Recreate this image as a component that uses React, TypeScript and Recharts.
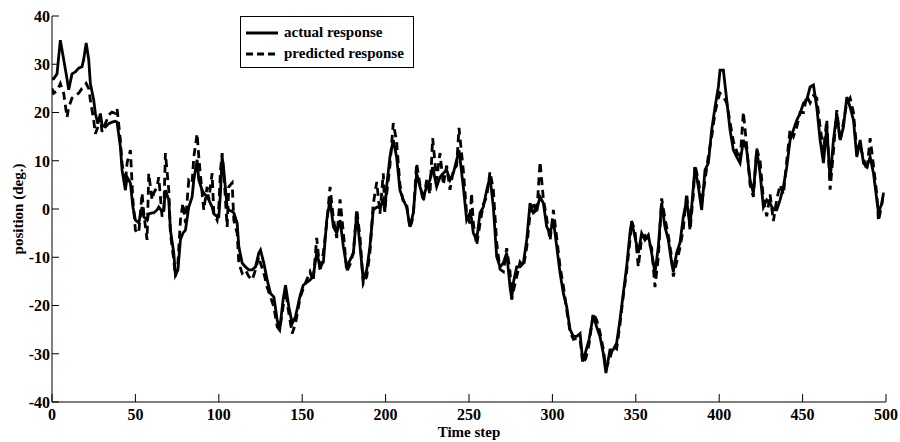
import React from 'react';
import { LineChart, Line, XAxis, YAxis, Legend } from 'recharts';

const FONT = '"Liberation Serif", "Times New Roman", Times, serif';

const timeSteps = [
  0, 1, 3, 5, 7, 9, 10, 12, 14, 16,
  18, 19, 20.5, 22, 23, 25, 26, 27.5, 29, 30,
  32, 34, 36, 38, 39, 41, 42, 44, 45, 47,
  48.5, 50, 52, 54, 55, 57, 58, 60, 61, 63,
  64, 66, 67, 68, 70, 71, 73, 74, 75.5, 77,
  78.5, 80, 82, 84, 85, 87, 88, 90, 91, 93,
  94, 96, 97, 99, 100, 101, 102, 103, 105, 106,
  108, 109, 111, 112, 114, 116, 118, 120, 122, 124,
  125, 127, 129, 131, 133, 135, 136.5, 138.5, 140, 142,
  144, 146, 148.7, 150.6, 154.7, 156.6, 158.7, 160.7, 162.7, 164.7,
  166.7, 168.7, 170.7, 172.7, 174.7, 176.7, 178.7, 180.7, 182.7, 184.7,
  186.6, 188.7, 190.6, 192.6, 194.7, 196.6, 198.6, 199.5, 200.6, 202.6,
  204.6, 206.6, 208.6, 210.6, 212.6, 214.6, 216.6, 218.6, 220.6, 222.6,
  224.6, 226.6, 228.2, 230.6, 232.6, 234.6, 236.6, 238.6, 240.6, 242.6,
  244, 246.6, 248.6, 250.6, 251.5, 252.6, 254.6, 256.6, 258.6, 260.6,
  262.6, 264.6, 266.6, 268.6, 270.6, 272.6, 274.6, 275.6, 276.6, 278.6,
  280.6, 282.6, 284.6, 286.6, 288.6, 290.6, 292.6, 294.6, 296.6, 298.6,
  300.6, 302.6, 304.6, 306.6, 308.6, 310.6, 312.6, 314.6, 316.6, 318.2,
  320, 322, 324.5, 326.5, 328.5, 330.5, 332.1, 334.5, 336.4, 338.5,
  340.5, 342.5, 344.5, 346.5, 347.5, 349.5, 351.5, 353.5, 355.5, 357.5,
  359.5, 361.5, 363.5, 365.5, 367.5, 369.5, 371.5, 372.5, 374.5, 376.5,
  378.5, 380.5, 382.5, 384.5, 385.5, 387.5, 389.5, 391.5, 393.5, 395.5,
  397.5, 399.5, 400.5, 402.5, 404.5, 406.5, 408.5, 410.5, 412.5, 414.5,
  416.5, 418.5, 420.5, 422.5, 424.5, 426.5, 428.5, 430.5, 432.5, 434.5,
  436.5, 438.5, 440.5, 442.5, 444.5, 446.5, 448.5, 450.5, 452.5, 454.5,
  456.5, 458.5, 460.5, 462.5, 464.5, 466.5, 468.5, 470.5, 472.5, 474.5,
  476.5, 478.5, 480.5, 482.5, 484.5, 486.5, 488.5, 490.5, 492.5, 494.5,
  495.5, 497.5, 498.5,
];

const actualResponse = [
  27, 27, 28, 35, 31, 27, 24.7, 28, 28.4, 29.2,
  29.5, 31, 34.4, 31, 26, 22.6, 19.8, 17.7, 19.8, 17.4,
  17, 17.7, 18, 18.2, 18, 12.9, 8.1, 3.9, 6.6, 5.4,
  0.4, -2.3, -2.9, 0.4, -1.6, -2.3, -1, -0.8, -0.8, -0.2,
  0.4, -0.5, -0.2, 3.9, 1.9, -4.4, -9.1, -13.7, -12.6, -6.4,
  -5, -4.4, 0.4, 2.5, 6, 10.2, 6, 3.9, 3.3, 2.5,
  1.9, 0.4, -1, -1.6, -1.6, 3.3, 10.8, 8, 0.4, -0.2,
  -0.5, -0.8, -2.9, -7.8, -11.2, -12, -12.6, -12.6, -12, -9.1,
  -8.5, -11.2, -14.7, -17.5, -18.2, -23, -25.1, -18.9, -15.8, -20.3,
  -23.7, -22.3, -18, -15.8, -14.7, -14, -9, -12, -11, -2.3,
  1.9, -3.7, -5, -2.3, -7.8, -12, -10.6, -9.1, -0.8, -7.8,
  -14.7, -12.6, -7.8, -0.2, 0.4, 0.4, 1.9, -0.6, 4.6, 10.8,
  14.3, 10.8, 3.9, 1.9, 0.4, -3.7, -0.8, 7.4, 4.6, 2.5,
  4.6, 6, 8.7, 4.6, 6.6, 7.4, 8.1, 6, 7.4, 10.2,
  12.2, 4.6, -2.3, -0.8, -2, -5, -6.4, -0.8, 0.4, 3.9,
  6.6, 0.4, -9.9, -12, -11.2, -9.1, -16.2, -18.5, -15.3, -12,
  -12, -11.2, -6.4, 1.2, -0.8, -0.2, 2.5, 1.2, -3.7, -5,
  -2.3, -7.8, -13.3, -17.5, -20.3, -25, -26.4, -26.4, -25.8, -31.6,
  -29.5, -27, -22, -24.4, -26.4, -29.9, -34, -29.2, -29.2, -27.8,
  -23, -17.5, -12, -5, -2.7, -5.8, -9.1, -5, -6.4, -5.4,
  -9.1, -13.3, -7.8, 1.2, -3.7, -6.4, -11.2, -13, -9.1, -7,
  -1.6, 1.9, -3.7, 4.6, 8.7, 4.6, -0.2, 8.1, 9.5, 16.4,
  21.1, 25.3, 28.8, 28.8, 22.6, 16.4, 12.2, 10.8, 9.5, 14.3,
  12.2, 6, 3.3, 12.2, 7.4, 0.4, 1.9, 1.2, -0.2, -0.2,
  1.9, 4.6, 8.7, 14.3, 16.4, 18.4, 19.8, 21.9, 22.6, 25.3,
  25.7, 21.1, 14.3, 9.5, 17, 6, 14.3, 19.8, 14.3, 17,
  23.2, 21.1, 18.4, 10.8, 14.3, 9.5, 8.7, 10.8, 7.4, 1.9,
  -0.8, 1.2, 3.3,
];

const predictedResponse = [
  25, 24, 24.5, 26, 24, 19, 21, 23, 23.6, 24,
  25, 25.2, 26, 25, 22.6, 18.4, 15.6, 17, 19.1, 16,
  17.7, 19.5, 20.1, 19.8, 20.8, 14.3, 9.5, 5.4, 9.5, 12.2,
  1.9, -4.4, -5, 3.3, -0.8, -6.4, 7.4, 1.9, 3.3, 4.6,
  6.6, -1.6, -0.8, 11.6, 3.9, -5, -10.6, -14, -11.2, -2.3,
  1.2, -2.9, 6, 5.4, 10.8, 15.6, 10.8, 3.3, -0.2, 4.6,
  1.9, 7.4, -0.8, -2.3, 0.4, 8, 11.6, 7.4, -3.7, 4.6,
  5.4, -2.3, -5, -11.2, -13.3, -12.6, -14, -14.7, -12.6, -9.9,
  -11.2, -13.3, -16.2, -18.2, -20.3, -24.4, -25.1, -20.3, -16.8, -21.6,
  -25.8, -23.7, -18.5, -16.5, -13, -15, -6, -13, -9, -3,
  4.6, -2, -6, 2, -5, -13, -11.5, -9, 0, -6,
  -15.5, -14, -9, 1, 5.6, -1, 7.4, 0, 3, 9,
  17.8, 14, 5, 1.5, 1, -4, -1.5, 9.5, 5, 1.5,
  6, 3, 14.7, 6, 11.6, 5, 9, 4, 8, 9,
  16.8, 8, -1, -3, 3.3, -3, -7.5, -3, 1, 2.5,
  7.7, 4, -7, -12.5, -13, -8.1, -13, -18.8, -17, -14,
  -11, -12, -8, -1, 1.5, -1, 9.8, 2, -2, -6.5,
  -0.2, -6, -12, -16, -21, -25.5, -27, -26.8, -27, -32,
  -31, -28, -21.6, -23, -25.5, -29, -33, -31, -28.5, -29,
  -24, -18, -13, -6.5, -2.5, -4.5, -12, -6, -5.5, -7,
  -8, -16.2, -10, 2.2, -2, -5.5, -10, -14, -11, -8,
  -4, 3.3, -4.5, 3, 9.1, 6, 1, 6, 11, 15,
  20, 23, 24, 23.2, 22, 18, 14, 12, 10, 20.1,
  13, 5, 2.5, 12.5, 10, 2, -1.5, 3, -2.5, 2,
  5, 3, 10, 16.5, 15, 17, 20, 20, 23.5, 22,
  23.5, 23, 17, 12, 18.5, 4, 12, 20.5, 14, 18,
  22, 23, 20, 12, 13, 10.5, 8, 14.7, 9, 3,
  -2.5, 1, 3.5,
];

const xTicks = [0, 50, 100, 150, 200, 250, 300, 350, 400, 450, 500];
const yTicks = [-40, -30, -20, -10, 0, 10, 20, 30, 40];
const xDomain = [0, 500];
const yDomain = [-40, 40];

const seriesNames = { actual: 'actual response', predicted: 'predicted response' };

const chartData = timeSteps.map((t, i) => ({
  t,
  actual: actualResponse[i],
  predicted: predictedResponse[i],
}));

const textStyle = { fill: '#000', fontSize: 16, fontWeight: 700, fontFamily: FONT };
const X_TICK_LEN = 8;
const Y_TICK_LEN = 7;

// Bottom axis: inward tick line plus label
const BottomTick = (props: any) => {
  const { x, y, payload } = props;
  return (
    <g>
      <line x1={x} x2={x} y1={y} y2={y - X_TICK_LEN} stroke="#000" strokeWidth={1} />
      <text x={x} y={y + 6} dy="0.72em" textAnchor="middle" style={textStyle}>
        {payload.value}
      </text>
    </g>
  );
};

// Top axis: inward tick line only
const TopTick = (props: any) => {
  const { x, y } = props;
  return <line x1={x} x2={x} y1={y} y2={y + X_TICK_LEN} stroke="#000" strokeWidth={1} />;
};

// Left axis: inward tick line plus label
const LeftTick = (props: any) => {
  const { x, y, payload } = props;
  return (
    <g>
      <line x1={x} x2={x + Y_TICK_LEN} y1={y} y2={y} stroke="#000" strokeWidth={1} />
      <text x={x - 2} y={y} dy="0.36em" textAnchor="end" style={textStyle}>
        {payload.value}
      </text>
    </g>
  );
};

// Right axis: inward tick line only
const RightTick = (props: any) => {
  const { x, y } = props;
  return <line x1={x} x2={x - Y_TICK_LEN} y1={y} y2={y} stroke="#000" strokeWidth={1} />;
};

const renderLegend = (props: any) => {
  const payload = props.payload || [];
  return (
    <div
      style={{
        width: 174,
        height: 52,
        boxSizing: 'border-box',
        border: '1px solid #000',
        background: '#fff',
        paddingTop: 5,
        fontFamily: FONT,
        fontWeight: 700,
        fontSize: 15,
        color: '#000',
      }}
    >
      {payload.map((entry: any, idx: number) => (
        <div key={idx} style={{ display: 'flex', alignItems: 'center', height: 21, whiteSpace: 'nowrap' }}>
          <svg width={42} height={10} style={{ flex: 'none' }}>
            <line
              x1={5}
              x2={37}
              y1={5}
              y2={5}
              stroke="#000"
              strokeWidth={3}
              strokeDasharray={entry.payload && entry.payload.strokeDasharray ? '7 4' : undefined}
            />
          </svg>
          <span style={{ marginLeft: 1, lineHeight: '21px' }}>{entry.value}</span>
        </div>
      ))}
    </div>
  );
};

export default function App() {
  return (
    <div style={{ position: 'absolute', left: 0, top: 0, width: 900, height: 442, background: '#fff' }}>
      <LineChart width={900} height={442} data={chartData} margin={{ top: 16, right: 14, bottom: 0, left: 0 }}>
        <XAxis
          xAxisId="main"
          dataKey="t"
          type="number"
          domain={xDomain}
          ticks={xTicks}
          allowDataOverflow
          height={40}
          tickLine={false}
          tickSize={0}
          tickMargin={0}
          axisLine={{ stroke: '#000', strokeWidth: 1 }}
          tick={BottomTick}
          label={{ value: 'Time step', position: 'insideBottom', offset: 5, fill: '#000', fontSize: 15, fontWeight: 700, fontFamily: FONT }}
        />
        <XAxis
          xAxisId="top"
          dataKey="t"
          type="number"
          domain={xDomain}
          ticks={xTicks}
          allowDataOverflow
          orientation="top"
          height={0}
          tickLine={false}
          tickSize={0}
          tickMargin={0}
          axisLine={{ stroke: '#000', strokeWidth: 1 }}
          tick={TopTick}
        />
        <YAxis
          yAxisId="main"
          type="number"
          domain={yDomain}
          ticks={yTicks}
          allowDataOverflow
          width={52}
          tickLine={false}
          tickSize={0}
          tickMargin={0}
          axisLine={{ stroke: '#000', strokeWidth: 1 }}
          tick={LeftTick}
          label={{
            value: 'position (deg.)',
            angle: -90,
            position: 'insideLeft',
            offset: 18,
            fill: '#000',
            fontSize: 15,
            fontWeight: 700,
            fontFamily: FONT,
            style: { textAnchor: 'middle' },
          }}
        />
        <YAxis
          yAxisId="right"
          type="number"
          domain={yDomain}
          ticks={yTicks}
          allowDataOverflow
          orientation="right"
          width={0}
          tickLine={false}
          tickSize={0}
          tickMargin={0}
          axisLine={{ stroke: '#000', strokeWidth: 1 }}
          tick={RightTick}
        />
        <Line
          xAxisId="main"
          yAxisId="main"
          type="linear"
          dataKey="actual"
          name={seriesNames.actual}
          stroke="#000"
          strokeWidth={2.8}
          dot={false}
          activeDot={false}
          isAnimationActive={false}
        />
        <Line
          xAxisId="top"
          yAxisId="right"
          type="linear"
          dataKey="predicted"
          name={seriesNames.predicted}
          stroke="#000"
          strokeWidth={2.8}
          strokeDasharray="8 5"
          dot={false}
          activeDot={false}
          isAnimationActive={false}
        />
        <Legend
          layout="horizontal"
          verticalAlign="middle"
          align="center"
          content={renderLegend}
          wrapperStyle={{ left: 240, top: 16, width: 174, height: 52 }}
        />
      </LineChart>
    </div>
  );
}
